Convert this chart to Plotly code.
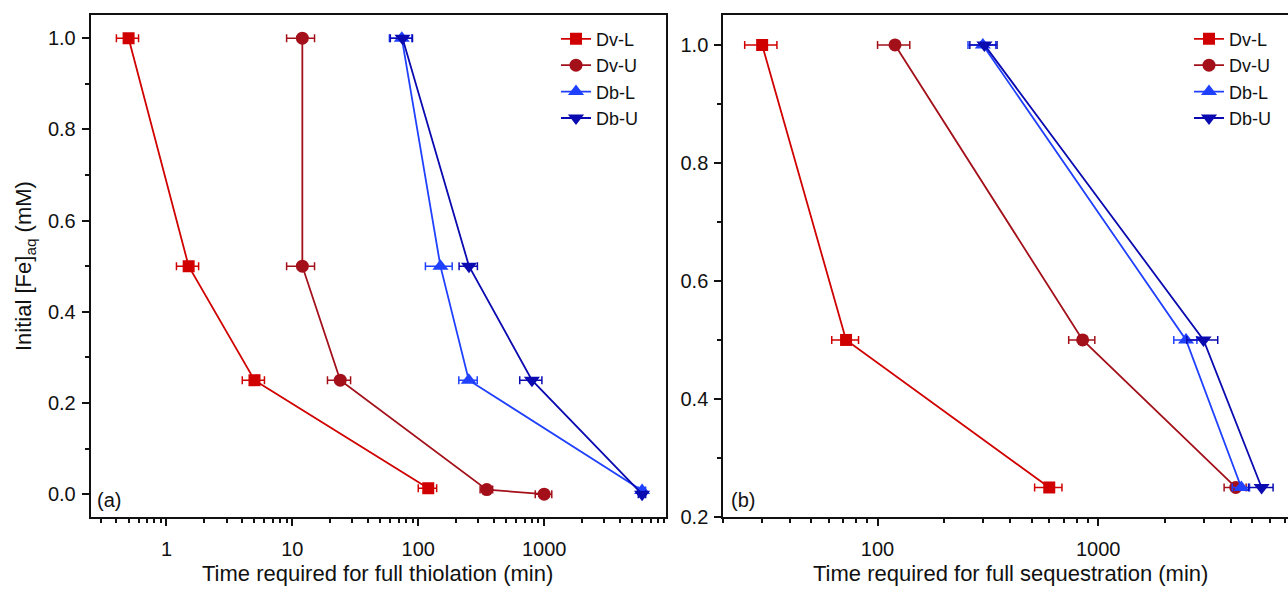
import math
import plotly.graph_objects as go

# ---------------- data ----------------
series_names = ["Dv-L", "Dv-U", "Db-L", "Db-U"]

# panel (a): time for full thiolation (min) vs initial [Fe]aq (mM)
a_dvl_x = [0.5, 1.5, 5, 120]
a_dvl_y = [1.0, 0.5, 0.25, 0.013]
a_dvl_err = [0.1, 0.3, 1.0, 20]

a_dvu_x = [12, 12, 24, 350, 1000]
a_dvu_y = [1.0, 0.5, 0.25, 0.01, 0.0]
a_dvu_err = [3, 3, 5, 40, 150]

a_dbl_x = [74, 150, 252, 6000]
a_dbl_y = [1.0, 0.5, 0.25, 0.008]
a_dbl_err = [15, 36, 42, 400]

a_dbu_x = [75, 253, 800, 6000]
a_dbu_y = [1.0, 0.5, 0.25, 0.0]
a_dbu_err = [15, 42, 160, 400]

# panel (b): time for full sequestration (min)
b_dvl_x = [30, 72, 600]
b_dvl_y = [1.0, 0.5, 0.25]
b_dvl_err = [5, 10, 85]

b_dvu_x = [120, 850, 4200]
b_dvu_y = [1.0, 0.5, 0.25]
b_dvu_err = [20, 115, 480]

b_dbl_x = [300, 2500, 4450]
b_dbl_y = [1.0, 0.5, 0.25]
b_dbl_err = [43, 300, 400]

b_dbu_x = [305, 3000, 5500]
b_dbu_y = [1.0, 0.5, 0.25]
b_dbu_err = [43, 480, 700]

colors = ["#D00000", "#A3101A", "#2040FF", "#0A0AB0"]
symbols = ["square", "circle", "triangle-up", "triangle-down"]
msizes = [12, 13, 14, 14]

FONT = "Liberation Sans, Arial, sans-serif"
W, H = 1288, 596

fig = go.Figure()

panel_a = [(a_dvl_x, a_dvl_y, a_dvl_err), (a_dvu_x, a_dvu_y, a_dvu_err),
           (a_dbl_x, a_dbl_y, a_dbl_err), (a_dbu_x, a_dbu_y, a_dbu_err)]
panel_b = [(b_dvl_x, b_dvl_y, b_dvl_err), (b_dvu_x, b_dvu_y, b_dvu_err),
           (b_dbl_x, b_dbl_y, b_dbl_err), (b_dbu_x, b_dbu_y, b_dbu_err)]

for panel, (xa, ya, leg) in [(panel_a, ("x", "y", "legend")), (panel_b, ("x2", "y2", "legend2"))]:
    for i, (xs, ys, es) in enumerate(panel):
        fig.add_trace(go.Scatter(
            x=xs, y=ys, xaxis=xa, yaxis=ya, legend=leg,
            name=series_names[i], mode="lines+markers",
            line=dict(color=colors[i], width=1.8),
            marker=dict(symbol=symbols[i], size=msizes[i], color=colors[i]),
            error_x=dict(type="data", array=es, symmetric=True,
                         color=colors[i], thickness=1.5, width=4),
        ))

# ---------------- layout ----------------
def px_x(p):
    return p / W

def px_y(p):
    return 1 - p / H

ydom = [px_y(526.7), px_y(15.7)]
axis_common = dict(showline=True, linecolor="#111", linewidth=2, ticks="outside",
                   tickcolor="#111", tickwidth=1.8, ticklen=7, showgrid=False,
                   zeroline=False, tickfont=dict(family=FONT, size=20, color="#111"))
minor_common = dict(ticks="outside", ticklen=4, tickwidth=1.5, tickcolor="#111", showgrid=False)

legend_common = dict(xanchor="left", yanchor="top", bgcolor="rgba(0,0,0,0)",
                     font=dict(family=FONT, size=18, color="#111"),
                     tracegroupgap=0, itemwidth=30)

fig.update_layout(
    width=W, height=H, margin=dict(l=0, r=0, t=0, b=0),
    paper_bgcolor="white", plot_bgcolor="white",
    font=dict(family=FONT, color="#111"),
    xaxis=dict(domain=[px_x(90.7), px_x(666)], type="log",
               range=[math.log10(0.25), 3.968], anchor="y", mirror=True,
               tickmode="linear", tick0=0, dtick=1, exponentformat="none",
               ticklabelstandoff=6, minor=minor_common, **axis_common),
    yaxis=dict(domain=ydom, range=[-0.05, 1.05], anchor="x", mirror=True,
               tickmode="linear", tick0=0, dtick=0.2, tickformat=".1f",
               ticklabelstandoff=2, minor=dict(dtick=0.1, **minor_common),
               **axis_common),
    xaxis2=dict(domain=[px_x(723.3), 1.0], type="log",
                range=[math.log10(20), 3.860], anchor="y2", mirror=True,
                tickmode="linear", tick0=0, dtick=1, exponentformat="none",
                ticklabelstandoff=6, minor=minor_common, **axis_common),
    yaxis2=dict(domain=ydom, range=[0.2, 1.05], anchor="x2", mirror=False,
                tickmode="linear", tick0=0, dtick=0.2, tickformat=".1f",
                ticklabelstandoff=2, minor=dict(dtick=0.1, **minor_common),
                **axis_common),
    legend=dict(x=px_x(556), y=px_y(21), **legend_common),
    legend2=dict(x=px_x(1189), y=px_y(21), **legend_common),
    showlegend=True,
)

ann_font = dict(family=FONT, size=22, color="#111")
annotations = [
    dict(text="Time required for full thiolation (min)", x=px_x(377.5), y=px_y(584),
         font=ann_font),
    dict(text="Time required for full sequestration (min)", x=px_x(1010.5), y=px_y(584),
         font=ann_font),
    dict(text="Initial [Fe]<sub>aq</sub> (mM)", x=px_x(25), y=px_y(271), textangle=-90,
         font=ann_font),
    dict(text="(a)", x=px_x(109), y=px_y(509), font=dict(family=FONT, size=20, color="#111")),
    dict(text="(b)", x=px_x(742.5), y=px_y(509), font=dict(family=FONT, size=20, color="#111")),
]
for a in annotations:
    a.update(xref="paper", yref="paper", showarrow=False, xanchor="center", yanchor="middle")
fig.update_layout(annotations=annotations)

fig.write_html("out.html", config={"displayModeBar": False},
               post_script="document.body.style.margin='0';document.body.style.overflow='hidden';")
